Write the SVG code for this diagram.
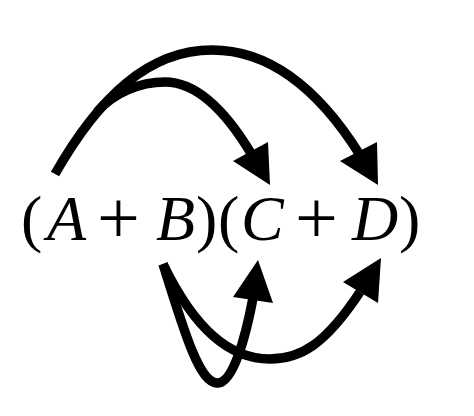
<svg xmlns="http://www.w3.org/2000/svg" width="474" height="416" viewBox="0 0 474 416">
<style>
.c{fill:none;stroke:#000;stroke-width:9.5}
.h{fill:#000}
.t{font-family:"Liberation Serif","Times New Roman",serif;font-size:64px;fill:#000}
.i{font-style:italic}
.p{font-size:76px}
</style>
<rect width="474" height="416" fill="#fff"/>
<g id="expression">
<text class="t" y="240"><tspan x="21">(</tspan><tspan class="i" x="47">A</tspan><tspan class="p" x="97" y="243">+</tspan><tspan class="i" x="156" y="240">B</tspan><tspan x="196">)</tspan><tspan x="218">(</tspan><tspan class="i" x="241">C</tspan><tspan class="p" x="295" y="243">+</tspan><tspan class="i" x="352" y="240">D</tspan><tspan x="399">)</tspan></text>
</g>
<g id="connectors">
<path class="c" d="M55,174 C100,95 150,50 212,50 C270,50 318,88 360,155"/>
<path class="c" d="M97,112 C113,93 140,82 165,82 C200,82 230,118 252,155"/>
<path class="c" d="M163,264 C185,335 200,384 218,383 C233,382 245,340 253,298"/>
<path class="c" d="M163,264 C195,330 230,359 270,359 C300,359 325,345 360,292"/>
<polygon class="h" points="270,185 233,161 268,142"/>
<polygon class="h" points="378,185 340,161 377,142"/>
<polygon class="h" points="258,260 233,297 273,303"/>
<polygon class="h" points="381,258 343,282 378,303"/>
</g>
</svg>
